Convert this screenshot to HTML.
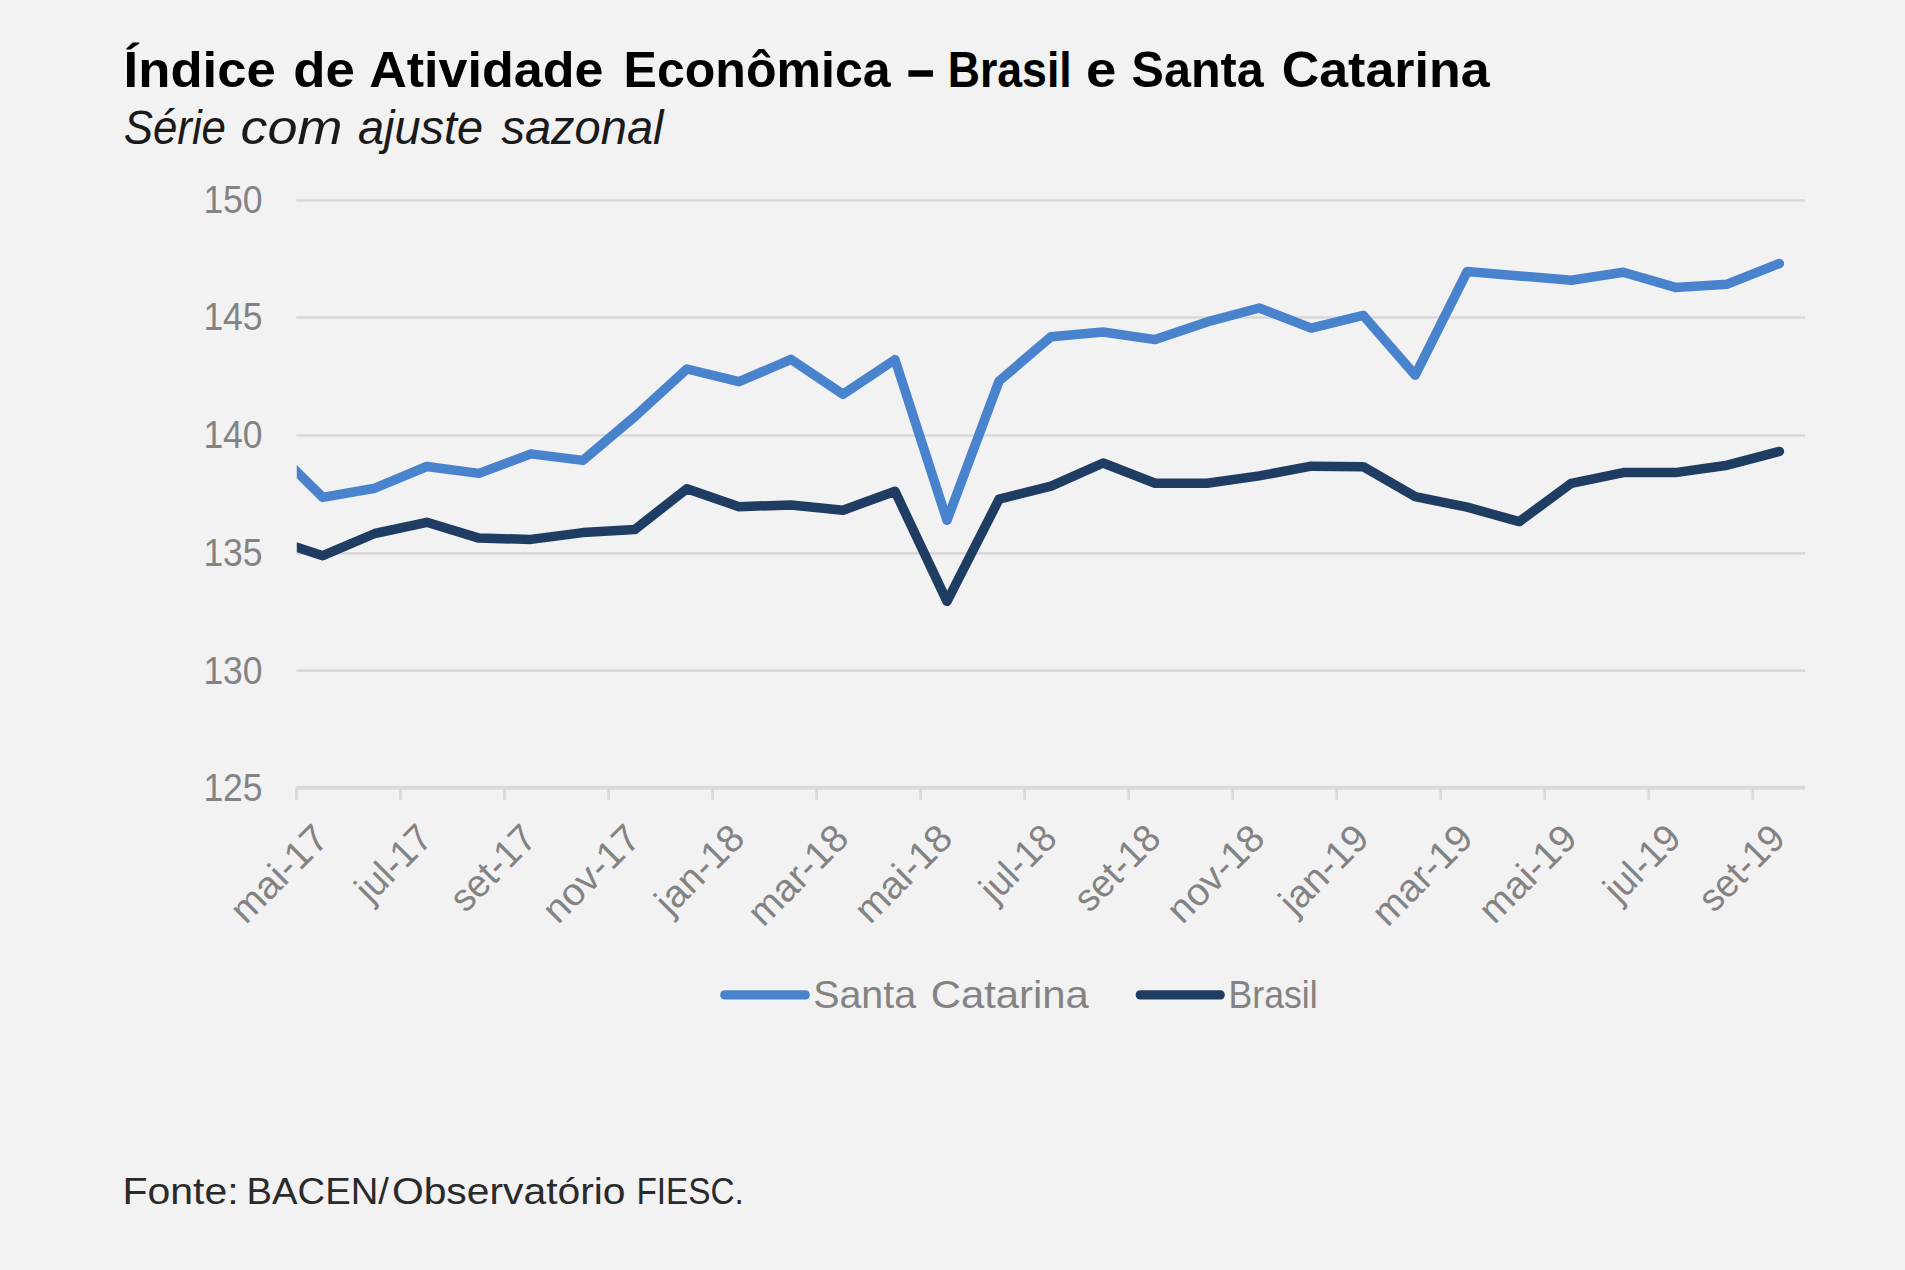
<!DOCTYPE html>
<html lang="pt-BR"><head><meta charset="utf-8"><title>Índice de Atividade Econômica – Brasil e Santa Catarina</title>
<style>
html,body{margin:0;padding:0;background:#f2f2f2;}
body{width:1905px;height:1270px;overflow:hidden;}
svg{display:block;position:absolute;left:0;top:0;}
text{font-family:"Liberation Sans",sans-serif;}
.ax{font-size:38.5px;fill:#838383;}
</style></head><body>
<svg width="1905" height="1270" viewBox="0 0 1905 1270">
<rect width="1905" height="1270" fill="#f2f2f2"/>
<defs><clipPath id="plot"><rect x="296.8" y="150" width="1528.5" height="640"/></clipPath></defs>
<text y="86.8" font-size="50" font-weight="bold" fill="#000"><tspan x="123.6" textLength="152.3" lengthAdjust="spacingAndGlyphs">Índice</tspan> <tspan x="293.3" textLength="61.6" lengthAdjust="spacingAndGlyphs">de</tspan> <tspan x="369.2" textLength="234.3" lengthAdjust="spacingAndGlyphs">Atividade</tspan> <tspan x="623.5" textLength="267.1" lengthAdjust="spacingAndGlyphs">Econômica</tspan> <tspan x="907.8" textLength="25.9" lengthAdjust="spacingAndGlyphs" stroke="#000" stroke-width="1.6">–</tspan> <tspan x="947.7" textLength="124.0" lengthAdjust="spacingAndGlyphs">Brasil</tspan> <tspan x="1086.1" textLength="30.4" lengthAdjust="spacingAndGlyphs">e</tspan> <tspan x="1131.6" textLength="132.1" lengthAdjust="spacingAndGlyphs">Santa</tspan> <tspan x="1281.7" textLength="207.9" lengthAdjust="spacingAndGlyphs">Catarina</tspan></text>
<text y="144.0" font-size="47.5" font-style="italic" fill="#1a1a1a"><tspan x="123.7" textLength="102.3" lengthAdjust="spacingAndGlyphs">Série</tspan> <tspan x="240.6" textLength="101.9" lengthAdjust="spacingAndGlyphs">com</tspan> <tspan x="357.9" textLength="125.2" lengthAdjust="spacingAndGlyphs">ajuste</tspan> <tspan x="501.4" textLength="162.2" lengthAdjust="spacingAndGlyphs">sazonal</tspan></text>
<g stroke="#d9d9d9" stroke-width="2.7" fill="none">
<line x1="296.4" y1="200.5" x2="1805.0" y2="200.5"/>
<line x1="296.4" y1="317.5" x2="1805.0" y2="317.5"/>
<line x1="296.4" y1="435.5" x2="1805.0" y2="435.5"/>
<line x1="296.4" y1="553.4" x2="1805.0" y2="553.4"/>
<line x1="296.4" y1="670.7" x2="1805.0" y2="670.7"/>
<line x1="296.4" y1="787.8" x2="1805.0" y2="787.8" stroke-width="4"/>
<line x1="296.5" y1="787.8" x2="296.5" y2="799.8"/>
<line x1="400.5" y1="787.8" x2="400.5" y2="799.8"/>
<line x1="504.5" y1="787.8" x2="504.5" y2="799.8"/>
<line x1="608.6" y1="787.8" x2="608.6" y2="799.8"/>
<line x1="712.6" y1="787.8" x2="712.6" y2="799.8"/>
<line x1="816.6" y1="787.8" x2="816.6" y2="799.8"/>
<line x1="920.6" y1="787.8" x2="920.6" y2="799.8"/>
<line x1="1024.6" y1="787.8" x2="1024.6" y2="799.8"/>
<line x1="1128.7" y1="787.8" x2="1128.7" y2="799.8"/>
<line x1="1232.7" y1="787.8" x2="1232.7" y2="799.8"/>
<line x1="1336.7" y1="787.8" x2="1336.7" y2="799.8"/>
<line x1="1440.7" y1="787.8" x2="1440.7" y2="799.8"/>
<line x1="1544.7" y1="787.8" x2="1544.7" y2="799.8"/>
<line x1="1648.8" y1="787.8" x2="1648.8" y2="799.8"/>
<line x1="1752.8" y1="787.8" x2="1752.8" y2="799.8"/>
</g>
<g class="ax">
<text x="203.4" y="213.3" textLength="59.2" lengthAdjust="spacingAndGlyphs">150</text>
<text x="203.4" y="330.3" textLength="59.2" lengthAdjust="spacingAndGlyphs">145</text>
<text x="203.4" y="448.3" textLength="59.2" lengthAdjust="spacingAndGlyphs">140</text>
<text x="203.4" y="566.2" textLength="59.2" lengthAdjust="spacingAndGlyphs">135</text>
<text x="203.4" y="683.5" textLength="59.2" lengthAdjust="spacingAndGlyphs">130</text>
<text x="203.4" y="800.6" textLength="59.2" lengthAdjust="spacingAndGlyphs">125</text>
</g>
<g class="ax" text-anchor="end">
<text transform="translate(330.6,840.5) rotate(-45)" textLength="120.0" lengthAdjust="spacingAndGlyphs">mai-17</text>
<text transform="translate(434.6,840.5) rotate(-45)" textLength="90.2" lengthAdjust="spacingAndGlyphs">jul-17</text>
<text transform="translate(538.7,840.5) rotate(-45)" textLength="103.7" lengthAdjust="spacingAndGlyphs">set-17</text>
<text transform="translate(642.7,840.5) rotate(-45)" textLength="119.9" lengthAdjust="spacingAndGlyphs">nov-17</text>
<text transform="translate(746.8,840.5) rotate(-45)" textLength="108.0" lengthAdjust="spacingAndGlyphs">jan-18</text>
<text transform="translate(850.8,840.5) rotate(-45)" textLength="123.7" lengthAdjust="spacingAndGlyphs">mar-18</text>
<text transform="translate(954.8,840.5) rotate(-45)" textLength="120.0" lengthAdjust="spacingAndGlyphs">mai-18</text>
<text transform="translate(1058.9,840.5) rotate(-45)" textLength="90.2" lengthAdjust="spacingAndGlyphs">jul-18</text>
<text transform="translate(1162.9,840.5) rotate(-45)" textLength="103.7" lengthAdjust="spacingAndGlyphs">set-18</text>
<text transform="translate(1267.0,840.5) rotate(-45)" textLength="119.9" lengthAdjust="spacingAndGlyphs">nov-18</text>
<text transform="translate(1371.0,840.5) rotate(-45)" textLength="108.0" lengthAdjust="spacingAndGlyphs">jan-19</text>
<text transform="translate(1475.0,840.5) rotate(-45)" textLength="123.7" lengthAdjust="spacingAndGlyphs">mar-19</text>
<text transform="translate(1579.1,840.5) rotate(-45)" textLength="120.0" lengthAdjust="spacingAndGlyphs">mai-19</text>
<text transform="translate(1683.1,840.5) rotate(-45)" textLength="90.2" lengthAdjust="spacingAndGlyphs">jul-19</text>
<text transform="translate(1787.2,840.5) rotate(-45)" textLength="103.7" lengthAdjust="spacingAndGlyphs">set-19</text>
</g>
<g fill="none" stroke-width="9.5" stroke-linejoin="round" stroke-linecap="round" clip-path="url(#plot)">
<polyline stroke="#4983ce" points="270.8,446.0 322.8,497.4 374.8,488.2 426.8,466.5 478.9,473.4 530.9,453.9 582.9,460.4 634.9,416.5 686.9,369.0 739.0,381.7 791.0,359.4 843.0,394.2 895.0,359.6 947.0,520.3 999.1,381.0 1051.1,336.7 1103.1,332.0 1155.1,339.6 1207.1,321.9 1259.2,308.0 1311.2,328.1 1363.2,315.3 1415.2,375.1 1467.2,271.5 1519.3,275.9 1571.3,280.3 1623.3,272.2 1675.3,287.4 1727.3,284.2 1779.4,263.5"/>
<polyline stroke="#1f3d63" points="270.8,538.9 322.8,555.7 374.8,533.5 426.8,522.3 478.9,538.1 530.9,539.4 582.9,532.6 634.9,529.4 686.9,488.7 739.0,506.7 791.0,504.9 843.0,510.2 895.0,491.3 947.0,601.4 999.1,499.2 1051.1,486.2 1103.1,463.0 1155.1,483.2 1207.1,483.2 1259.2,475.9 1311.2,466.2 1363.2,466.7 1415.2,496.7 1467.2,507.2 1519.3,521.6 1571.3,483.3 1623.3,472.6 1675.3,472.6 1727.3,465.2 1779.4,451.4"/>
</g>
<g fill="none" stroke-width="9.3" stroke-linecap="round">
<line stroke="#4983ce" x1="724.8" y1="994.9" x2="805.2" y2="994.9"/>
<line stroke="#1f3d63" x1="1140.3" y1="994.9" x2="1220.2" y2="994.9"/>
</g>
<text y="1007.5" class="ax"><tspan x="813.2" textLength="102.9" lengthAdjust="spacingAndGlyphs">Santa</tspan> <tspan x="930.7" textLength="158.2" lengthAdjust="spacingAndGlyphs">Catarina</tspan></text>
<text y="1007.5" class="ax"><tspan x="1228.6" textLength="89.1" lengthAdjust="spacingAndGlyphs">Brasil</tspan></text>
<text y="1204.3" font-size="37.5" fill="#2a2a2a"><tspan x="122.4" textLength="116.2" lengthAdjust="spacingAndGlyphs">Fonte:</tspan> <tspan x="246.5" textLength="142.4" lengthAdjust="spacingAndGlyphs">BACEN/</tspan><tspan x="391.9" textLength="233.7" lengthAdjust="spacingAndGlyphs">Observatório</tspan> <tspan x="636.4" textLength="107.4" lengthAdjust="spacingAndGlyphs">FIESC.</tspan></text>
</svg>
</body></html>
